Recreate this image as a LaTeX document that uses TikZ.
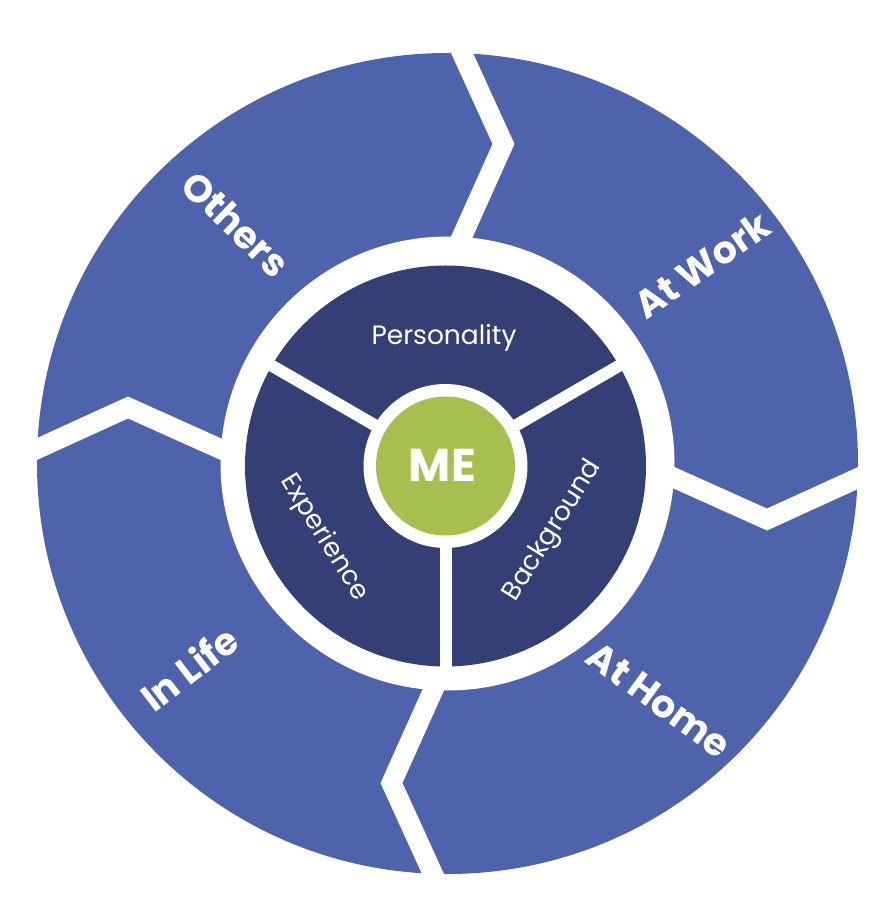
\documentclass[tikz,border=0pt]{standalone}
\usepackage{fontspec}
\setmainfont{Poppins}
\definecolor{ringblue}{HTML}{4F62AC}
\definecolor{darkblue}{HTML}{343F75}
\definecolor{megreen}{HTML}{A8BF4F}
\tikzset{
  outerlabel/.style={text=white, inner sep=0pt, font=\fontsize{38}{44}\selectfont\bfseries},
  innerlabel/.style={text=white, inner sep=0pt, font=\fontsize{26.5}{31}\selectfont},
  divider/.style={draw=white, line width=20pt, line join=miter, miter limit=10},
  spoke/.style={draw=white, line width=12pt}
}
\begin{document}
\begin{tikzpicture}[x=1pt,y=1pt]
\useasboundingbox (-447.5,-453.5) rectangle (444.5,463.5);
% outer ring
\fill[ringblue] (0,0) circle[radius=410.5pt];
\fill[white] (0,0) circle[radius=227pt];
% inner dark disk
\coordinate (ic) at (-2,-2.5);
\fill[darkblue] (ic) circle[radius=200.5pt];
% spokes
\foreach \a in {30,150,270}{
  \draw[spoke] (ic) -- ++(\a:214pt);
}
\fill[white] (ic) circle[radius=82pt];
\fill[megreen] (ic) circle[radius=69.5pt];
% dividers
\foreach \r in {0,90,180,270}{
  \begin{scope}[rotate=\r]
    \draw[divider] (215,-9.1) -- (319.5,-56) -- (425,-7.9);
  \end{scope}
}
% outer labels
\node[outerlabel, rotate=-44] (others) at (-211.5,239.5) {Others};
\node[outerlabel, rotate=35] (atwork) at (254.5,198.5) {At Work};
\node[outerlabel, rotate=-36] (athome) at (211.5,-236.5) {At Home};
\node[outerlabel, rotate=37.5] (inlife) at (-258.5,-204.5) {In Life};
% inner labels
\node[innerlabel, anchor=base] (pers) at (-3.5,118.5) {Personality};
\node[innerlabel, rotate=-58] (exp) at (-123.5,-74.5) {Experience};
\node[innerlabel, rotate=58] (back) at (105.5,-67.5) {Background};
\node[text=white, inner sep=0pt, font=\fontsize{46}{52}\selectfont\bfseries] (me) at (-5,-2) {ME};
\end{tikzpicture}
\end{document}
